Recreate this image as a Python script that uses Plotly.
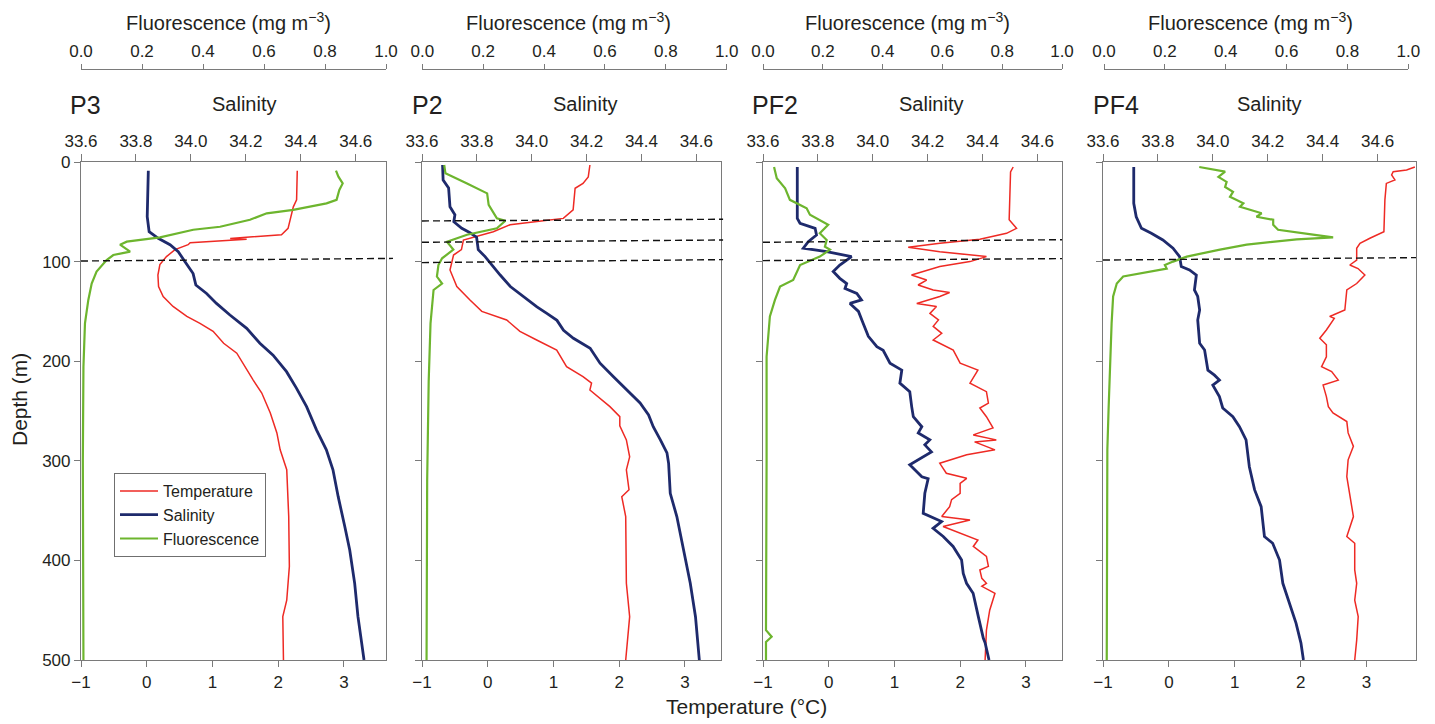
import plotly.graph_objects as go

# ---------------- data ----------------
panel_names = ["P3", "P2", "PF2", "PF4"]

# P3
p3_temp_depth = [8.7, 38, 45, 55, 66.6, 73, 76.7, 77.6, 78.8, 81, 83, 88, 95, 103, 113.5, 125, 135, 145, 155, 162,
                 170, 182, 192, 205.5, 219, 232, 252, 272, 289, 309, 356, 406, 440, 456.5, 500]
p3_temp = [2.29, 2.28, 2.23, 2.19, 2.15, 2.05, 1.27, 1.52, 1.25, 0.66, 0.63, 0.43, 0.30, 0.20, 0.17, 0.18, 0.25,
           0.40, 0.61, 0.81, 1.01, 1.17, 1.37, 1.49, 1.62, 1.75, 1.88, 1.98, 2.03, 2.13, 2.16, 2.17, 2.13, 2.07, 2.08]
p3_sal_depth = [8.7, 55, 70, 76.6, 83, 90, 100, 112, 123.5, 132, 142, 153.6, 167, 182, 194, 210.5, 227, 245.6,
                269, 289, 309, 336, 366, 389.5, 423, 456.5, 480, 500]
p3_sal = [33.845, 33.841, 33.848, 33.881, 33.924, 33.954, 33.978, 34.008, 34.018, 34.057, 34.093, 34.142, 34.203,
          34.251, 34.299, 34.348, 34.384, 34.421, 34.457, 34.493, 34.517, 34.536, 34.56, 34.578, 34.596, 34.608,
          34.62, 34.63]
p3_fl_depth = [8.7, 14.7, 21.5, 28, 38, 41.5, 48, 51.5, 58, 65, 68, 75.6, 80, 83, 90, 93.4, 98.4, 110, 122, 138.5,
               162, 205.5, 300, 400, 500]
p3_fl = [0.836, 0.844, 0.858, 0.847, 0.838, 0.805, 0.696, 0.609, 0.554, 0.456, 0.368, 0.259, 0.15, 0.128, 0.161,
         0.106, 0.084, 0.051, 0.035, 0.024, 0.013, 0.008, 0.006, 0.007, 0.008]
p3_mld = [(99.4, 96.8)]

# P2
p2_temp_depth = [3, 15, 21.5, 26.4, 48, 56.6, 59, 63, 70, 78.3, 88, 93.4, 108.4, 125, 138.5, 150, 158.6, 170,
                 178.7, 188.8, 205.5, 215.5, 222, 229, 245.6, 255.7, 265, 279, 296, 309, 329, 336, 356, 423, 456.5, 500]
p2_temp = [1.555, 1.53, 1.45, 1.33, 1.30, 1.15, 0.845, 0.34, 0.085, -0.37, -0.40, -0.52, -0.574, -0.47, -0.27,
           -0.09, 0.288, 0.49, 0.745, 1.05, 1.20, 1.45, 1.58, 1.555, 1.86, 2.01, 2.01, 2.11, 2.16, 2.11, 2.15, 2.04,
           2.10, 2.11, 2.16, 2.10]
p2_sal_depth = [3, 18, 26, 45, 53, 60, 66.6, 71, 75.5, 88, 95, 103.4, 113.5, 125, 135, 145.5, 152, 159, 169, 177,
                187, 202, 215.5, 222, 232, 242, 254, 265.8, 279, 292, 302.5, 332.6, 356, 389.5, 423, 456.5, 500]
p2_sal = [33.675, 33.677, 33.697, 33.702, 33.72, 33.716, 33.745, 33.775, 33.799, 33.805, 33.830, 33.854, 33.885,
          33.922, 33.97, 34.019, 34.055, 34.092, 34.116, 34.152, 34.213, 34.249, 34.298, 34.322, 34.36, 34.395,
          34.426, 34.443, 34.469, 34.493, 34.499, 34.505, 34.529, 34.554, 34.578, 34.597, 34.611]
p2_fl_depth = [3, 11.4, 21.5, 31.5, 43, 56.6, 59, 66.6, 73, 80, 88, 96.7, 103.4, 115, 122, 128.5, 162, 220, 320,
               420, 500]
p2_fl = [0.072, 0.076, 0.147, 0.213, 0.218, 0.245, 0.273, 0.245, 0.147, 0.081, 0.102, 0.065, 0.053, 0.048, 0.065,
         0.037, 0.027, 0.021, 0.016, 0.015, 0.014]
p2_mld = [(59.2, 57.5), (80.6, 78.3), (101, 98)]

# PF2
pf2_temp_depth = [5, 10, 58, 66.6, 71.6, 77.6, 81.6, 85.7, 90, 95, 100, 105, 113.5, 118.5, 123.5, 128.5, 131, 135,
                  142, 145, 152, 158.6, 165, 172, 178.7, 188.8, 202, 209, 222, 230.6, 242, 247, 255.7, 267, 274, 279,
                  281, 289, 294, 302.5, 312.5, 317.6, 322.6, 332.6, 339, 346, 356, 359.4, 366, 372.7, 379.5, 386,
                  396, 406, 409.6, 418, 423, 426, 433, 450, 470, 500]
pf2_temp = [2.807, 2.767, 2.746, 2.858, 2.706, 2.30, 1.692, 1.21, 1.69, 2.40, 2.15, 1.69, 1.26, 1.49, 1.36, 1.59,
            1.84, 1.69, 1.34, 1.64, 1.54, 1.67, 1.59, 1.72, 1.59, 1.895, 2.0, 2.27, 2.15, 2.40, 2.43, 2.30, 2.40,
            2.50, 2.20, 2.55, 2.22, 2.53, 2.10, 1.69, 1.79, 2.10, 2.0, 2.0, 1.87, 1.84, 1.72, 2.15, 1.74, 2.0, 2.27,
            2.20, 2.40, 2.43, 2.30, 2.33, 2.40, 2.33, 2.53, 2.45, 2.40, 2.38]
pf2_sal_depth = [5, 56.6, 61.5, 66.6, 73.3, 80, 86.6, 90, 95, 103.4, 110, 116.8, 122, 127, 132, 138.5, 142, 150,
                 162, 175, 185.4, 189, 202, 209, 222, 230.6, 245.6, 255.7, 265.8, 272, 279, 284, 291, 304, 316, 318,
                 332.6, 352.7, 361, 367.8, 376, 386, 399.6, 413, 423, 433, 456.5, 478, 483, 500]
pf2_sal = [33.725, 33.725, 33.735, 33.790, 33.795, 33.765, 33.747, 33.832, 33.923, 33.880, 33.856, 33.880, 33.905,
           33.899, 33.942, 33.959, 33.917, 33.948, 33.965, 33.984, 34.015, 34.038, 34.063, 34.106, 34.099, 34.135,
           34.142, 34.148, 34.179, 34.166, 34.208, 34.190, 34.214, 34.135, 34.179, 34.202, 34.190, 34.184, 34.251,
           34.220, 34.257, 34.293, 34.324, 34.330, 34.342, 34.366, 34.385, 34.403, 34.410, 34.424]
pf2_fl_depth = [5, 16.4, 26.4, 38, 46.5, 53, 63, 71.6, 78.3, 85, 88, 95, 103.4, 118.5, 125, 138.5, 155, 195.5, 300,
                400, 470, 476.6, 482, 500]
pf2_fl = [0.037, 0.046, 0.074, 0.09, 0.146, 0.157, 0.218, 0.19, 0.213, 0.207, 0.224, 0.19, 0.124, 0.101, 0.057,
          0.04, 0.023, 0.012, 0.012, 0.011, 0.010, 0.029, 0.010, 0.010]
pf2_mld = [(80.6, 78), (99, 97)]

# PF4
pf4_temp_depth = [5, 8, 9.7, 13, 18, 21.5, 38, 70, 76.6, 81.6, 86.6, 98.4, 103.4, 107, 113.5, 122, 128.5, 148.6,
                  153.6, 155, 157, 168.7, 177, 183.5, 195.5, 205.5, 210.5, 219, 224, 235.6, 245.6, 252, 260.6, 272,
                  285.5, 299, 316, 332.6, 356, 376, 382.8, 409.6, 423, 440, 456.5, 480, 500]
pf4_temp = [3.733, 3.607, 3.404, 3.38, 3.43, 3.30, 3.278, 3.263, 3.05, 2.90, 2.85, 2.85, 2.746, 2.87, 2.974, 2.85,
            2.70, 2.67, 2.493, 2.44, 2.51, 2.39, 2.29, 2.39, 2.39, 2.317, 2.47, 2.57, 2.34, 2.39, 2.42, 2.49, 2.70,
            2.72, 2.80, 2.72, 2.70, 2.746, 2.80, 2.70, 2.82, 2.82, 2.85, 2.82, 2.873, 2.85, 2.82]
pf4_sal_depth = [5, 41.5, 55, 66.6, 71.6, 78.3, 86.6, 95, 105, 108.4, 113.5, 128.5, 135, 148.6, 158.6, 182, 188.8,
                 209, 214, 219, 224, 235.6, 247, 255.7, 265.8, 279, 306, 329, 346, 376, 382.8, 399.6, 423, 443, 463,
                 483, 500]
pf4_sal = [33.712, 33.712, 33.721, 33.74, 33.776, 33.818, 33.855, 33.879, 33.885, 33.915, 33.94, 33.933, 33.945,
           33.952, 33.945, 33.952, 33.97, 33.982, 34.006, 34.024, 34.0, 34.024, 34.036, 34.073, 34.097, 34.121,
           34.133, 34.152, 34.176, 34.188, 34.218, 34.243, 34.255, 34.279, 34.303, 34.321, 34.33]
pf4_fl_depth = [5, 6.7, 9.7, 15, 20, 25, 30, 35, 41.5, 45, 51.5, 55, 58, 63, 68, 73, 75.6, 77.6, 83, 88, 95, 100,
                103.4, 107, 110, 115, 122, 135, 162, 205.5, 249, 289, 400, 500]
pf4_fl = [0.313, 0.343, 0.398, 0.376, 0.403, 0.398, 0.424, 0.414, 0.458, 0.447, 0.518, 0.501, 0.556, 0.556, 0.572,
          0.687, 0.753, 0.633, 0.469, 0.381, 0.272, 0.227, 0.200, 0.206, 0.151, 0.063, 0.042, 0.030, 0.025, 0.019,
          0.015, 0.011, 0.010, 0.009]
pf4_mld = [(98.4, 96)]

depth_ticks = [0, 100, 200, 300, 400, 500]
temp_ticks = [-1, 0, 1, 2, 3]
sal_ticks = [33.6, 33.8, 34.0, 34.2, 34.4, 34.6]
fl_ticks = [0.0, 0.2, 0.4, 0.6, 0.8, 1.0]

# ---------------- layout geometry (pixels) ----------------
W, H = 1435, 724
ML, MR, MT, MB = 81, 19, 60, 64
PW, PH = W - ML - MR, H - MT - MB


def fx(p):
    return (p - ML) / PW


def fy(p):
    return (H - MB - p) / PH


panels = [
    dict(name=panel_names[0], dom=(81, 386), fdom=(81, 386), trange=[-1, 3.64], srange=[33.6, 34.71],
         t=(p3_temp_depth, p3_temp), s=(p3_sal_depth, p3_sal), f=(p3_fl_depth, p3_fl), mld=p3_mld, mx=1.023,
         lab_x=68, sal_x=244, fl_x=228),
    dict(name=panel_names[1], dom=(422, 721), fdom=(422.3, 726.7), trange=[-1, 3.55], srange=[33.6, 34.69],
         t=(p2_temp_depth, p2_temp), s=(p2_sal_depth, p2_sal), f=(p2_fl_depth, p2_fl), mld=p2_mld, mx=1.007,
         lab_x=410, sal_x=585, fl_x=568),
    dict(name=panel_names[2], dom=(763, 1062), fdom=(763, 1062), trange=[-1, 3.55], srange=[33.6, 34.69],
         t=(pf2_temp_depth, pf2_temp), s=(pf2_sal_depth, pf2_sal), f=(pf2_fl_depth, pf2_fl), mld=pf2_mld, mx=1.0,
         lab_x=750, sal_x=931, fl_x=907),
    dict(name=panel_names[3], dom=(1103, 1416), fdom=(1104, 1408.3), trange=[-1, 3.75], srange=[33.6, 34.74],
         t=(pf4_temp_depth, pf4_temp), s=(pf4_sal_depth, pf4_sal), f=(pf4_fl_depth, pf4_fl), mld=pf4_mld, mx=1.0,
         lab_x=1091, sal_x=1269, fl_x=1250),
]

FONT = "Liberation Sans, Arial, Helvetica, sans-serif"
TXT = "#231f20"
AX = "#7a7a7a"
RED = "#ee2a24"
NAVY = "#1e2a6c"
GREEN = "#6db52e"

fig = go.Figure()
layout = {}
annotations = []
shapes = []
ytop = fy(162)

for k, p in enumerate(panels):
    tid = 3 * k + 1
    sid = 3 * k + 2
    fid = 3 * k + 3
    tname = "x" if tid == 1 else f"x{tid}"
    yname = "y" if k == 0 else f"y{k + 1}"
    tkey = "xaxis" if tid == 1 else f"xaxis{tid}"
    ykey = "yaxis" if k == 0 else f"yaxis{k + 1}"

    common = dict(showgrid=False, zeroline=False, showline=True, linecolor=AX, linewidth=1.2,
                  ticks="outside", tickcolor=AX, tickwidth=1.2,
                  tickfont=dict(family=FONT, size=17, color=TXT))

    layout[tkey] = dict(common, domain=[fx(p["dom"][0]), fx(p["dom"][1])], anchor=yname, side="bottom",
                        range=p["trange"], tickvals=temp_ticks, ticklen=6)
    layout[f"xaxis{sid}"] = dict(common, overlaying=tname, anchor=yname, side="top",
                                 range=p["srange"], tickvals=sal_ticks, tickformat=".1f", ticklen=7)
    layout[f"xaxis{fid}"] = dict(common, domain=[fx(p["fdom"][0]), fx(p["fdom"][1])], anchor="free",
                                 position=fy(69), side="top", range=[0, 1], tickvals=fl_ticks,
                                 tickformat=".1f", ticklen=5)
    layout[ykey] = dict(common, domain=[0, ytop], anchor=tname, range=[500, 0], tickvals=depth_ticks,
                        ticklen=6, mirror=True, showticklabels=(k == 0))

    show = (k == 0)
    fig.add_trace(go.Scatter(x=p["t"][1], y=p["t"][0], xaxis=tname, yaxis=yname, mode="lines",
                             line=dict(color=RED, width=1.5), name="Temperature", legendgroup="t",
                             showlegend=show, legendrank=1))
    fig.add_trace(go.Scatter(x=p["f"][1], y=p["f"][0], xaxis=f"x{fid}", yaxis=yname, mode="lines",
                             line=dict(color=GREEN, width=2.2), name="Fluorescence", legendgroup="f",
                             showlegend=show, legendrank=3))
    fig.add_trace(go.Scatter(x=p["s"][1], y=p["s"][0], xaxis=f"x{sid}", yaxis=yname, mode="lines",
                             line=dict(color=NAVY, width=2.8), name="Salinity", legendgroup="s",
                             showlegend=show, legendrank=2))

    for d0, d1 in p["mld"]:
        shapes.append(dict(type="line", xref=f"{tname} domain", yref=yname, x0=0, x1=p["mx"], y0=d0, y1=d1,
                           line=dict(color="#111111", width=1.4, dash="7px,4px")))

    annotations.append(dict(text=p["name"], x=fx(p["lab_x"]), y=fy(105), xref="paper", yref="paper",
                            xanchor="left", yanchor="middle", showarrow=False,
                            font=dict(family=FONT, size=25, color=TXT)))
    annotations.append(dict(text="Salinity", x=fx(p["sal_x"]), y=fy(104), xref="paper", yref="paper",
                            xanchor="center", yanchor="middle", showarrow=False,
                            font=dict(family=FONT, size=20, color=TXT)))
    annotations.append(dict(text="Fluorescence (mg m<sup>−3</sup>)", x=fx(p["fl_x"]), y=fy(21), xref="paper",
                            yref="paper", xanchor="center", yanchor="middle", showarrow=False,
                            font=dict(family=FONT, size=20, color=TXT)))

annotations.append(dict(text="Temperature (°C)", x=fx(746), y=fy(706), xref="paper", yref="paper",
                        xanchor="center", yanchor="middle", showarrow=False,
                        font=dict(family=FONT, size=21, color=TXT)))
annotations.append(dict(text="Depth (m)", x=fx(19), y=fy(400), xref="paper", yref="paper", textangle=-90,
                        xanchor="center", yanchor="middle", showarrow=False,
                        font=dict(family=FONT, size=21, color=TXT)))

fig.update_layout(
    width=W, height=H,
    margin=dict(l=ML, r=MR, t=MT, b=MB, autoexpand=False),
    paper_bgcolor="white", plot_bgcolor="rgba(0,0,0,0)",
    font=dict(family=FONT, size=17, color=TXT),
    showlegend=True,
    legend=dict(x=fx(114), y=fy(473), xanchor="left", yanchor="top", bgcolor="white",
                bordercolor="#6f6f6f", borderwidth=1, font=dict(family=FONT, size=16, color=TXT),
                tracegroupgap=0, itemwidth=38),
    annotations=annotations, shapes=shapes,
    **layout,
)

fig.write_html("out.html", config={"displayModeBar": False},
               post_script="document.body.style.margin='0px';document.body.style.overflow='hidden';")
